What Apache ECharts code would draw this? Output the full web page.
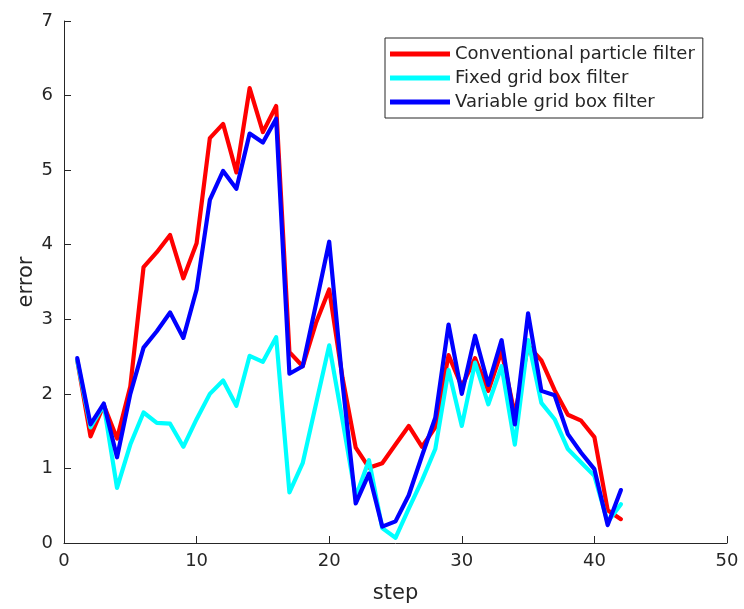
<!DOCTYPE html>
<html>
<head>
<meta charset="utf-8">
<script src="https://cdn.jsdelivr.net/npm/echarts@6/dist/echarts.min.js"></script>
<style>html,body{margin:0;padding:0;background:#fff;}#c{width:744px;height:609px;}</style>
</head>
<body>
<div id="c"></div>
<script>
const steps = [1,2,3,4,5,6,7,8,9,10,11,12,13,14,15,16,17,18,19,20,21,22,23,24,25,26,27,28,29,30,31,32,33,34,35,36,37,38,39,40,41,42];
const conventional = [2.45,1.43,1.85,1.40,2.10,3.70,3.90,4.13,3.55,4.02,5.43,5.62,4.97,6.10,5.51,5.86,2.56,2.37,2.95,3.40,2.22,1.28,1.01,1.07,1.32,1.57,1.29,1.55,2.52,2.10,2.48,2.04,2.57,1.72,2.65,2.45,2.05,1.72,1.64,1.42,0.44,0.32];
const fixedGrid = [2.45,1.55,1.85,0.74,1.32,1.75,1.61,1.60,1.29,1.66,2.00,2.18,1.84,2.51,2.43,2.76,0.68,1.07,1.86,2.65,1.65,0.62,1.11,0.20,0.07,0.46,0.84,1.26,2.32,1.57,2.42,1.86,2.37,1.32,2.72,1.88,1.66,1.26,1.08,0.90,0.28,0.52];
const variableGrid = [2.48,1.59,1.87,1.15,2.00,2.62,2.84,3.09,2.75,3.40,4.60,4.99,4.75,5.49,5.37,5.69,2.27,2.37,3.20,4.04,2.15,0.53,0.93,0.22,0.29,0.64,1.17,1.68,2.93,2.00,2.78,2.12,2.72,1.59,3.08,2.04,1.98,1.46,1.21,0.99,0.24,0.71];
const seriesNames = ['Conventional particle filter','Fixed grid box filter','Variable grid box filter'];
const seriesColors = ['#ff0000','#00ffff','#0000ff'];
const xTicks = {min:0,max:50,interval:10};
const yTicks = {min:0,max:7,interval:1};

const pairs = arr => steps.map((s,i)=>[s,arr[i]]);
const txt = '#262626';
const font = 'DejaVu Sans';
const chart = echarts.init(document.getElementById('c'), null, {renderer:'canvas'});
chart.setOption({
  animation:false,
  backgroundColor:'#fff',
  grid:{left:64,right:17,top:21,bottom:63,containLabel:false},
  legend:{
    orient:'vertical', left:385, top:38,
    backgroundColor:'#fff', borderColor:'#262626', borderWidth:1,
    padding:[4,8,4,5], itemGap:0,
    itemWidth:60, itemHeight:5, icon:'rect',
    textStyle:{fontFamily:font,fontSize:18,color:txt,lineHeight:24},
    data:seriesNames
  },
  xAxis:{
    type:'value', min:xTicks.min, max:xTicks.max, interval:xTicks.interval,
    name:'step', nameLocation:'middle', nameGap:40, nameMoveOverlap:false,
    nameTextStyle:{fontFamily:font,fontSize:21,color:txt},
    axisLine:{lineStyle:{color:txt,width:1}},
    axisTick:{inside:true,length:7,lineStyle:{color:txt}},
    axisLabel:{fontFamily:font,fontSize:18,color:txt,margin:9},
    splitLine:{show:false}
  },
  yAxis:{
    type:'value', min:yTicks.min, max:yTicks.max, interval:yTicks.interval,
    name:'error', nameLocation:'middle', nameGap:27, nameRotate:90, nameMoveOverlap:false,
    nameTextStyle:{fontFamily:font,fontSize:21,color:txt},
    axisLine:{show:true,lineStyle:{color:txt,width:1}},
    axisTick:{show:true,inside:true,length:7,lineStyle:{color:txt}},
    axisLabel:{fontFamily:font,fontSize:18,color:txt,margin:11},
    splitLine:{show:false}
  },
  series:[conventional,fixedGrid,variableGrid].map((d,i)=>({
    name:seriesNames[i], type:'line', data:pairs(d),
    showSymbol:false, symbol:'none',
    lineStyle:{color:seriesColors[i],width:4.2,join:'round',cap:'round'},
    itemStyle:{color:seriesColors[i]},
    z:2+i
  }))
});
</script>
</body>
</html>
